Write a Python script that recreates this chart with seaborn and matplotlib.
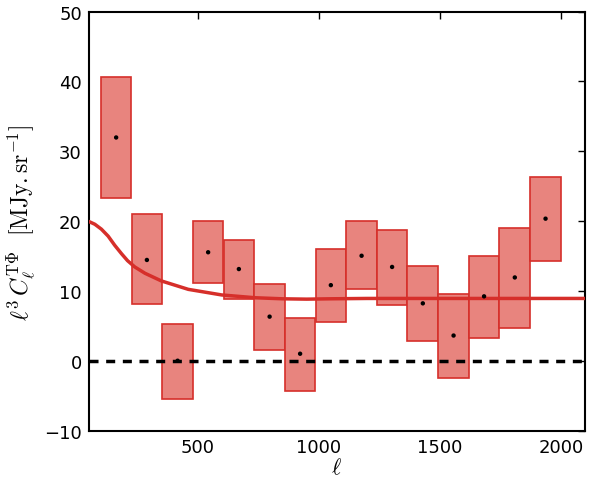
"""
Spectre croisé T-Phi : boites d'erreur par bin en ell, points et modèle.
"""

import numpy as np
import pandas as pd
import matplotlib
matplotlib.use("Agg")
import matplotlib.pyplot as plt
import seaborn as sns

# Bins en ell (centres) et largeur
ELL_CENTERS = [163, 290, 417, 543, 670, 797, 923, 1050, 1177, 1303, 1430, 1557, 1683, 1810, 1937]
BIN_WIDTH = 126.7

# Valeurs mesurées et bornes des boites
CL_POINTS = [32.0, 14.5, 0.1, 15.6, 13.2, 6.4, 1.1, 10.9, 15.1, 13.5, 8.3, 3.7, 9.3, 12.0, 20.4]
CL_LOW = [23.4, 8.2, -5.3, 11.2, 8.9, 1.7, -4.2, 5.7, 10.3, 8.1, 2.9, -2.4, 3.3, 4.8, 14.3]
CL_HIGH = [40.7, 21.0, 5.3, 20.1, 17.4, 11.0, 6.2, 16.1, 20.0, 18.8, 13.6, 9.7, 15.0, 19.1, 26.4]

# Modèle théorique
MODEL_ELL = [50, 75, 102, 130, 157, 185, 210, 240, 282, 350, 461, 599, 737, 850, 950, 1050, 1200, 1500, 1800, 2100]
MODEL_CL = [20.0, 19.6, 18.9, 17.9, 16.6, 15.4, 14.4, 13.5, 12.6, 11.5, 10.3, 9.5, 9.1, 8.95, 8.9, 8.95, 9.0, 9.0, 9.0, 9.0]

RED = "#d62f2a"
FACE = "#e8847e"

sns.set_style("white")
plt.rcParams["mathtext.fontset"] = "cm"
plt.rcParams["font.family"] = ["DejaVu Sans"]
plt.rcParams["text.color"] = "black"
plt.rcParams["axes.labelcolor"] = "black"
plt.rcParams["xtick.color"] = "black"
plt.rcParams["ytick.color"] = "black"

df_pts = pd.DataFrame({"ell": ELL_CENTERS, "cl": CL_POINTS})
df_model = pd.DataFrame({"ell": MODEL_ELL, "cl": MODEL_CL})

fig = plt.figure(figsize=(6, 4.81), dpi=100)
ax = fig.add_axes([0.148, 0.101, 0.827, 0.873])

# boites d'erreur
low = np.array(CL_LOW)
high = np.array(CL_HIGH)
ax.bar(ELL_CENTERS, high - low, bottom=low, width=BIN_WIDTH,
       color=FACE, edgecolor=RED, linewidth=1.2, zorder=2)

# modèle
sns.lineplot(data=df_model, x="ell", y="cl", ax=ax, color=RED, lw=2.5,
             sort=False, estimator=None, zorder=3)

# zéro
ax.axhline(0, color="black", lw=2.5, ls=(0, (2.6, 2.2)), zorder=4)

# points
sns.scatterplot(data=df_pts, x="ell", y="cl", ax=ax, color="black", s=10,
                edgecolor="none", zorder=5)

ax.set_xlim(50, 2100)
ax.set_ylim(-10, 50)
ax.set_xticks([500, 1000, 1500, 2000])
ax.set_yticks([-10, 0, 10, 20, 30, 40, 50])
ax.tick_params(direction="in", length=5, width=1, top=True, right=True,
               labelsize=13, pad=5, colors="black")
for sp in ax.spines.values():
    sp.set_linewidth(1.5)
    sp.set_color("black")

ax.set_xlabel(r"$\ell$", fontsize=16, labelpad=0)
ax.set_ylabel(r"$\ell^3\,C_\ell^{\mathrm{T}\Phi}\ \ [\mathrm{MJy.sr}^{-1}]$", fontsize=17, labelpad=4)

fig.savefig("out.png", dpi=100)
plt.close(fig)
